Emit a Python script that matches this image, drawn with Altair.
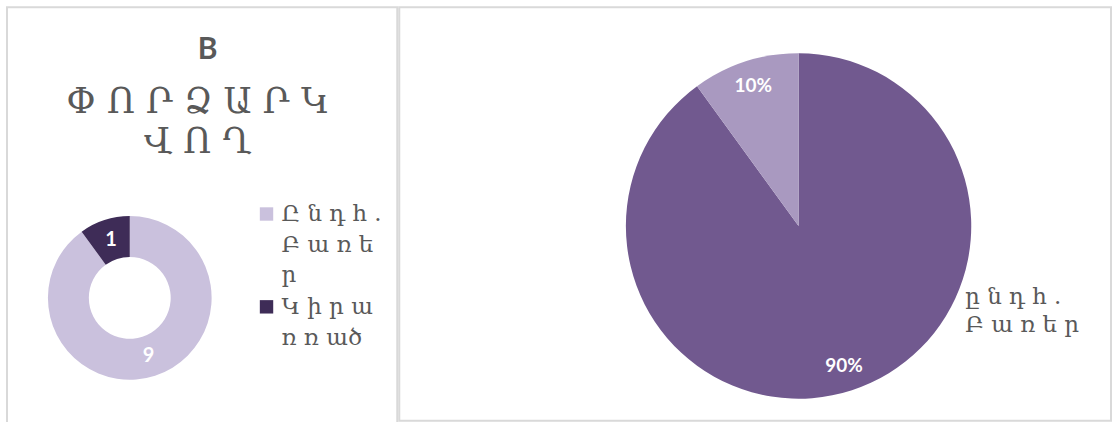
import altair as alt
import pandas as pd

# ---- data ----
categories = ["Ընդհ. Բառեր", "Կիրառված"]
counts = [9, 1]
percents = [90, 10]
title_top = "B"
title_lines = ["Փ Ո Ր Ձ Ա Ր Կ", "Վ Ո Ղ"]
legend_lines = [["Ը ն դ հ .", "Բ ա ռ ե", "ր"], ["Կ ի ր ա", "ռ ռ ած"]]
pie_label_lines = ["ը ն դ հ .", "Բ ա ռ ե ր"]

# ---- styles ----
donut_colors = ["#CAC1DD", "#3E2C57"]
pie_colors = ["#71598F", "#A999C0"]
GRAY = "#595959"
SERIF = "DejaVu Serif"

df_left = pd.DataFrame({"cat": categories, "value": counts,
                        "idx": list(range(len(categories))),
                        "label": [str(c) for c in counts]})
df_right = pd.DataFrame({"cat": categories, "value": percents,
                         "idx": list(range(len(categories))),
                         "label": [f"{p}%" for p in percents]})


def text_layer(text, x, y, **style):
    return alt.Chart(pd.DataFrame({"t": [text]})).mark_text(**style).encode(
        text="t:N", x=alt.value(x), y=alt.value(y))


# ---- left panel: donut ----
LW, LH = 391, 420
cx, cy = 123, 291
theta_l = alt.Theta("value:Q", stack=True)
order_l = alt.Order("idx:Q")
donut = alt.Chart(df_left).mark_arc(innerRadius=41, outerRadius=82).encode(
    theta=theta_l, order=order_l,
    color=alt.Color("cat:N", scale=alt.Scale(domain=categories, range=donut_colors), legend=None),
    x=alt.value(cx), y=alt.value(cy))
donut_lbl = alt.Chart(df_left).mark_text(radius=61, font="Lato", fontWeight="bold",
                                         fontSize=20, color="white").encode(
    theta=theta_l, order=order_l, text="label:N", x=alt.value(cx), y=alt.value(cy))

left_layers = [donut, donut_lbl]
left_layers.append(text_layer(title_top, 201, 43, font="Lato", fontWeight="bold",
                              fontSize=30, color=GRAY, align="center", baseline="middle"))
for i, line in enumerate(title_lines):
    left_layers.append(text_layer(line, 191, 95 + 40 * i, font=SERIF,
                                  fontSize=35, color=GRAY, align="center", baseline="middle"))

legend_y = [[207, 238, 268], [300, 331]]
for k, cat in enumerate(categories):
    sq = alt.Chart(pd.DataFrame({"cat": [cat]})).mark_square(size=180, opacity=1).encode(
        color=alt.Color("cat:N", scale=alt.Scale(domain=categories, range=donut_colors), legend=None),
        x=alt.value(260), y=alt.value(legend_y[k][0]))
    left_layers.append(sq)
    for j, line in enumerate(legend_lines[k]):
        left_layers.append(text_layer(line, 275, legend_y[k][j], font=SERIF, fontSize=23,
                                      color=GRAY, align="left", baseline="middle"))

left = alt.layer(*left_layers).properties(width=LW, height=LH)

# ---- right panel: pie ----
RW, RH = 713, 414
px, py = 400, 219
theta_r = alt.Theta("value:Q", stack=True)
order_r = alt.Order("idx:Q")
pie = alt.Chart(df_right).mark_arc(outerRadius=173).encode(
    theta=theta_r, order=order_r,
    color=alt.Color("cat:N", scale=alt.Scale(domain=categories, range=pie_colors), legend=None),
    x=alt.value(px), y=alt.value(py))
pie_lbl = alt.Chart(df_right).mark_text(radius=147, font="Lato", fontWeight="bold",
                                        fontSize=19, color="white").encode(
    theta=theta_r, order=order_r, text="label:N", x=alt.value(px), y=alt.value(py))
right_layers = [pie, pie_lbl]
for j, line in enumerate(pie_label_lines):
    right_layers.append(text_layer(line, 567, 290 + 28 * j, font=SERIF, fontSize=23,
                                   color=GRAY, align="left", baseline="middle"))
right = alt.layer(*right_layers).properties(width=RW, height=RH)

chart = alt.hconcat(left, right, spacing=0).resolve_scale(
    color="independent", theta="independent").properties(
    padding={"left": 6, "top": 6, "right": 0, "bottom": 0},
    background="white").configure_view(stroke="#D9D9D9", strokeWidth=2)

chart.save("out.html", embed_options={"renderer": "svg", "actions": False})
